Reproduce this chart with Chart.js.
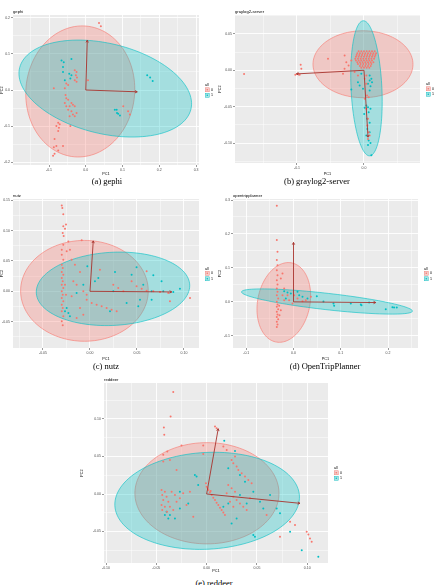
<!DOCTYPE html>
<html>
<head>
<meta charset="utf-8">
<script src="https://cdn.jsdelivr.net/npm/chart.js@4.4.1/dist/chart.umd.min.js"></script>
<style>
  body { margin: 0; background: #fff; width: 437px; height: 585px; overflow: hidden; position: relative; }
  canvas { position: absolute; }
  .cap { position: absolute; font-family: 'Liberation Serif', 'DejaVu Serif', serif; font-size: 8.5px; line-height: 10px; color: #000; white-space: nowrap; transform: translateX(-50%); }
</style>
</head>
<body>
<canvas id="pa" width="218" height="176" style="left:0;top:0"></canvas>
<canvas id="pb" width="219" height="176" style="left:218px;top:0"></canvas>
<canvas id="pc" width="218" height="176" style="left:0;top:185px"></canvas>
<canvas id="pd" width="219" height="176" style="left:218px;top:185px"></canvas>
<canvas id="pe" width="270" height="203" style="left:80px;top:370px"></canvas>
<div class="cap" style="left:107px;top:176px">(a) gephi</div>
<div class="cap" style="left:317px;top:176px">(b) graylog2-server</div>
<div class="cap" style="left:106px;top:361px">(c) nutz</div>
<div class="cap" style="left:325px;top:361px">(d) OpenTripPlanner</div>
<div class="cap" style="left:214px;top:578px">(e) reddeer</div>
<script>
// legend groups
const groups = ['0', '1']
const groupColors = ['#F8766D', '#00BFC4']
const groupFills = ['rgba(248,118,109,0.3)', 'rgba(0,191,196,0.3)']

// ---------- (a) gephi
const gephiXLabels = ['-0.1', '0.0', '0.1', '0.2', '0.3']
const gephiYLabels = ['-0.2', '-0.1', '0.0', '0.1', '0.2']
const gephi0 = [[0.036,0.186],[0.041,0.177],[-0.030,0.055],[-0.025,0.050],[-0.027,0.041],[-0.024,0.035],[-0.030,0.027],[-0.025,0.023],
  [-0.053,0.018],[-0.048,0.014],[-0.057,0.005],[-0.087,0.005],[0.006,0.027],[-0.055,-0.014],[-0.053,-0.023],[-0.048,-0.027],
  [-0.039,-0.036],[-0.035,-0.041],[-0.044,-0.045],[-0.030,-0.045],[-0.048,-0.055],[-0.039,-0.059],[-0.035,-0.068],[-0.030,-0.073],
  [-0.044,-0.073],[-0.025,-0.064],[-0.057,-0.036],[-0.053,-0.045],[0.102,-0.045],[0.115,-0.059],[0.120,-0.068],[-0.075,-0.091],
  [-0.071,-0.095],[-0.080,-0.100],[-0.073,-0.105],[-0.075,-0.114],[-0.042,-0.100],[-0.085,-0.136],[-0.080,-0.155],[-0.087,-0.159],
  [-0.075,-0.168],[-0.085,-0.177],[-0.089,-0.182],[-0.062,-0.155]]
const gephi1 = [[-0.066,0.082],[-0.060,0.077],[-0.039,0.086],[-0.062,0.064],[-0.045,0.045],[-0.039,0.041],[-0.042,0.032],[-0.057,0.027],
  [-0.062,0.050],[0.167,0.041],[0.175,0.035],[0.182,0.025],[0.079,-0.055],[0.084,-0.055],[0.088,-0.066],[0.093,-0.071],[0.085,-0.064]]
const gephiArrows = [[0.004,0.138],[0.140,-0.005]]
// ellipse: centre x, centre y, semi-axis a, semi-axis b, angle (deg)
const gephiEllipse0 = [-0.015, -0.004, 0.182, 0.148, 85]
const gephiEllipse1 = [0.053, 0.004, 0.240, 0.125, -14]

// ---------- (b) graylog2-server
const graylogXLabels = ['-0.1', '0.0']
const graylogYLabels = ['-0.10', '-0.05', '0.00', '0.05']
const graylog0 = [[-0.179,-0.005],[-0.0945,0.0076],[-0.0935,0.0021],[-0.0985,-0.0048],[-0.096,-0.0062],[-0.1025,-0.006],
  [-0.0537,0.0158],[-0.0289,0.0204],[-0.0313,-0.0048],[-0.0264,0.0112],[-0.0189,0.0135],[-0.023,0.0067],[-0.029,0.002],
  [-0.008,0.026],[-0.004,0.026],[0,0.026],[0.004,0.026],[0.008,0.026],[0.012,0.026],[0.016,0.026],
  [-0.010,0.0235],[-0.006,0.0235],[-0.002,0.0235],[0.002,0.0235],[0.006,0.0235],[0.010,0.0235],[0.014,0.0235],[0.018,0.0235],
  [-0.011,0.021],[-0.007,0.021],[-0.003,0.021],[0.001,0.021],[0.005,0.021],[0.009,0.021],[0.013,0.021],[0.017,0.021],
  [-0.012,0.0185],[-0.008,0.0185],[-0.004,0.0185],[0,0.0185],[0.004,0.0185],[0.008,0.0185],[0.012,0.0185],[0.016,0.0185],
  [-0.013,0.016],[-0.009,0.016],[-0.005,0.016],[-0.001,0.016],[0.003,0.016],[0.007,0.016],[0.011,0.016],[0.015,0.016],
  [-0.012,0.0135],[-0.008,0.0135],[-0.004,0.0135],[0,0.0135],[0.004,0.0135],[0.008,0.0135],[0.012,0.0135],
  [-0.010,0.011],[-0.006,0.011],[-0.002,0.011],[0.002,0.011],[0.006,0.011],[0.010,0.011],[0.014,0.011],
  [-0.009,0.0085],[-0.005,0.0085],[-0.001,0.0085],[0.003,0.0085],[0.007,0.0085],[0.011,0.0085],
  [-0.006,0.006],[-0.002,0.006],[0.002,0.006],[0.006,0.006],[0.010,0.006],
  [-0.004,0.0035],[0,0.0035],[0.004,0.0035],[0.008,0.0035],
  [0.001,-0.0117],[0.0035,-0.0186],[0.0045,-0.0347],[0.007,-0.037],[0.001,-0.0393],[0.0035,-0.053],[0.006,-0.0668],
  [0.005,-0.076],[0.007,-0.0852],[0.0085,-0.0898],[0.006,-0.0944],[0.0035,-0.0071],[-0.009,-0.0071],[-0.014,-0.0025]]
const graylog1 = [[-0.004,-0.0048],[0.0085,-0.0071],[0.011,-0.0117],[0.0085,-0.014],[0.012,-0.0163],[0.006,-0.0186],[0.0097,-0.022],
  [-0.009,-0.0163],[-0.0065,-0.0209],[-0.0189,-0.0264],[-0.0015,-0.0255],[0.0085,-0.0278],[0.0035,-0.0485],[0.006,-0.0508],
  [0.001,-0.0517],[0.0097,-0.053],[0.007,-0.0576],[0.0003,-0.06],[0.0047,-0.0668],[0.0085,-0.0723],[0.005,-0.0806],
  [0.0085,-0.0852],[0.0035,-0.0898],[0.007,-0.0967],[0.0097,-0.1],[0.011,-0.117],[0.006,-0.1027]]
const graylogArrows = [[-0.101,-0.005],[0.006,-0.092]]
const graylogEllipse0 = [-0.0015, 0.0083, 0.0746, 0.046, 0]
const graylogEllipse1 = [0.0037, -0.0248, 0.093, 0.023, 93]

// ---------- (c) nutz
const nutzXLabels = ['-0.05', '0.00', '0.05', '0.10']
const nutzYLabels = ['-0.05', '0.00', '0.05', '0.10', '0.15']
const nutz0 = [[-0.030,0.1415],[-0.0294,0.137],[-0.0284,0.127],[-0.0255,0.110],[-0.0284,0.107],[-0.0266,0.103],[-0.029,0.096],
  [-0.028,0.091],[-0.023,0.082],[-0.0284,0.0768],[-0.030,0.0685],[-0.0248,0.0658],[-0.0213,0.0685],[-0.030,0.0603],[-0.0284,0.052],
  [-0.0195,0.052],[-0.030,0.0439],[-0.029,0.0384],[-0.030,0.0318],[-0.0284,0.0274],[-0.030,0.0219],[-0.029,0.0165],[-0.030,0.011],
  [-0.0284,0.0055],[-0.030,0],[-0.029,-0.0055],[-0.030,-0.011],[-0.0284,-0.0165],[-0.030,-0.0219],[-0.029,-0.0274],[-0.030,-0.0329],
  [-0.0284,-0.0411],[-0.030,-0.0493],[-0.029,-0.0559],[-0.0266,0.011],[-0.0255,-0.0055],
  [-0.0088,0.0839],[-0.016,0.0439],[-0.0106,0.0318],[-0.0177,0.0165],[-0.0142,0.011],[-0.0071,0],[-0.0035,-0.0137],[0.0018,-0.0192],
  [0.0071,-0.0219],[0.0124,-0.0247],[0.0177,-0.0274],[0.023,-0.0302],[0.0284,-0.0329],[0.0248,0.011],[0.0301,0.0055],[0.0355,0],
  [0.0443,0.0165],[0.0496,0.0082],[0.055,0.0044],[0.0603,0.0011],[0.0674,0],[0.0745,-0.0011],[0.0833,-0.0027],[0.0851,-0.0165],
  [0.1064,-0.011],[0.0603,0.0329],[0.0106,0.0356],[-0.0142,-0.0439],[-0.0071,-0.0384],[-0.0035,-0.0055],[-0.0195,-0.0082],[-0.0106,-0.0274]]
const nutz1 = [[-0.0266,-0.0329],[-0.023,-0.0356],[-0.0213,-0.0411],[-0.0248,-0.0274],[-0.0028,0.0411],[0.0053,0.0165],[0.0089,0.0219],
  [0.0266,0.0318],[0.0443,0.0274],[0.0496,0.0395],[0.0674,0.0263],[0.0762,0.0165],[0.0567,0.011],[0.0656,0],[0.078,0],[0.0887,-0.0011],
  [0.0957,0.0044],[0.0532,-0.0137],[0.0656,-0.0137],[0.039,-0.0192],[0.0248,0],[0.0213,-0.0329],[-0.0142,-0.0027],[-0.0071,0.011],[0.0514,-0.0247]]
const nutzArrows = [[0.0035,0.083],[0.087,-0.001]]
const nutzEllipse0 = [-0.0059, 0.0008, 0.0679, 0.083, 0]
const nutzEllipse1 = [0.0245, 0.0041, 0.082, 0.060, 8]

// ---------- (d) OpenTripPlanner
const otpXLabels = ['-0.1', '0.0', '0.1', '0.2']
const otpYLabels = ['-0.1', '0.0', '0.1', '0.2', '0.3']
const otp0 = [[-0.0353,0.2832],[-0.0353,0.1821],[-0.0338,0.1475],[-0.0353,0.123],[-0.0338,0.108],[-0.0353,0.0934],[-0.0338,0.0787],
  [-0.0353,0.0639],[-0.0338,0.0512],[-0.0353,0.0394],[-0.0338,0.0295],[-0.0353,0.0197],[-0.0324,0.0098],[-0.0353,0],[-0.0338,-0.0079],
  [-0.0353,-0.0147],[-0.0324,-0.0216],[-0.0353,-0.0295],[-0.0338,-0.0374],[-0.0353,-0.0443],[-0.0324,-0.0511],[-0.0353,-0.059],
  [-0.0338,-0.0669],[-0.0353,-0.0738],[-0.0303,-0.0118],[-0.0268,-0.0246],[-0.0296,-0.0394],
  [-0.0233,0.0836],[-0.0268,0.0689],[-0.0197,0.0394],[-0.0127,0.0197],[-0.0092,0.0049],[-0.0021,-0.0049],[0.0085,0.0098],
  [0.019,0.002],[0.026,0.0049],[-0.0233,0.0197],[0.0014,0.0197],[-0.0197,0.0049],[0.0367,0.0147]]
const otp1 = [[-0.0197,0.0315],[-0.0127,0.0275],[0.0085,0.0295],[0.012,0.0197],[0.019,0.0148],[0.0296,0.0098],[0.0493,0.0167],
  [0.0634,0.001],[0.0846,-0.0049],[0.086,-0.0118],[0.1212,-0.0049],[0.1424,-0.0079],[0.1438,-0.0098],[0.16,-0.002],[0.1952,-0.0216],
  [0.2093,-0.0157],[0.2128,-0.0167],[0.2185,-0.0167],[-0.0162,0.0098],[-0.0056,0.0246]]
const otpArrows = [[0,0.175],[0.174,-0.002]]
const otpEllipse0 = [-0.0205, -0.0018, 0.118, 0.0557, 84]
const otpEllipse1 = [0.0708, 0.001, 0.183, 0.024, -9]

// ---------- (e) reddeer
const reddeerXLabels = ['-0.10', '-0.05', '0.00', '0.05', '0.10']
const reddeerYLabels = ['-0.05', '0.00', '0.05', '0.10']
const reddeer0 = [[-0.0332,0.136],[-0.0358,0.1034],[-0.0425,0.0887],[-0.0421,0.0789],[-0.0391,0.0566],[-0.0431,0.0522],[-0.0431,0.0433],
  [-0.0365,0.0455],[-0.0299,0.0321],[-0.025,0.0646],[-0.0034,0.0646],[-0.0034,0.0535],[0.0083,0.09],[0.0099,0.0878],
  [-0.0448,0.0053],[-0.0415,0.0031],[-0.0441,-0.0013],[-0.0398,-0.0036],[-0.0431,-0.008],[-0.0381,-0.0103],[-0.0448,-0.0147],
  [-0.0415,-0.017],[-0.0365,-0.017],[-0.0441,-0.0214],[-0.0394,-0.0236],[-0.0332,-0.0214],[-0.0299,-0.0103],[-0.0315,-0.0013],
  [-0.0348,0.0031],[-0.0266,-0.0058],[-0.0233,0.0009],[-0.02,-0.0147],[-0.0133,-0.0303],[-0.0166,0.0031],
  [0,0.0098],[0.0017,0.0053],[0.0033,0.0022],[0.005,-0.0013],[0.0066,-0.0049],[0.0083,-0.008],[0.0099,-0.0116],[0.0116,-0.0147],
  [0.0133,-0.0183],[0.0149,-0.0214],[0.0166,-0.0245],[0.0182,-0.0281],[-0.0007,0.0143],[0.001,0.0076],[0.004,0.004],
  [0.0215,0.012],[0.0248,0.0076],[0.0282,0.0031],[0.0265,-0.0036],[0.0298,-0.008],[0.0331,-0.0125],[0.0364,-0.017],[0.0398,-0.0214],
  [0.0232,-0.0103],[0.0265,-0.017],[0.0431,-0.0058],[0.0199,0.0009],
  [0.0248,0.0455],[0.0265,0.041],[0.0298,0.0366],[0.0315,0.0321],[0.0348,0.0276],[0.0381,0.0232],[0.0414,0.0187],[0.0447,0.0143],
  [0.0166,0.0633],[0.0199,0.0588],[0.0282,0.05],
  [0.0829,-0.037],[0.0878,-0.0414],[0.0994,-0.0504],[0.1011,-0.054],[0.1027,-0.0593],[0.1044,-0.0637],[0.0729,-0.0571],[0.0596,-0.0281]]
const reddeer1 = [[0.0175,0.0709],[0.0282,0.0575],[0.0215,0.0343],[-0.0117,0.0254],[-0.0084,0.012],[-0.0266,0.0031],[-0.0183,-0.0125],
  [-0.0398,-0.0236],[-0.0365,-0.0281],[-0.0315,-0.0325],[-0.0266,-0.0192],[0.0331,-0.0013],[0.0398,-0.0125],[0.0464,0.0031],
  [0.053,-0.0103],[0.063,-0.0013],[0.0696,-0.0192],[0.0729,-0.0258],[0.0464,-0.0548],[0.048,-0.0571],[0.0298,-0.0325],
  [0.0248,-0.0392],[0.0945,-0.0749],[0.111,-0.0838],[0.0829,-0.0504],[0.0563,-0.0192],[-0.0415,-0.0281],[-0.0381,-0.0325],
  [-0.01,0.0232],[0.0331,0.0254],[0.0381,0.0165],[0.0166,-0.017],[0.0215,-0.0125]]
const reddeerArrows = [[0.0115,0.087],[0.0927,-0.0124]]
const reddeerEllipse0 = [0.0003, 0.001, 0.0716, 0.0675, 0]
const reddeerEllipse1 = [0.0005, -0.0091, 0.092, 0.0644, 6]

const FONT = "'Liberation Sans', Arial, sans-serif"

function ticksFor(labels, min, max) {
    const major = labels.map(Number)
    const step = major[1] - major[0]
    const minor = []
    for (let i = -1; i < major.length; i++) {
        const v = i < 0 ? major[0] - step / 2 : major[i] + step / 2
        if (v > min && v < max) minor.push(v)
    }
    return { major, minor }
}

function scaleCfg(labels, min, max, title, size, horizontal) {
    const t = ticksFor(labels, min, max)
    const isMajor = v => t.major.some(m => Math.abs(m - v) < 1e-9)
    return {
        type: 'linear', min, max,
        afterBuildTicks: s => { s.ticks = t.major.concat(t.minor).sort((p, q) => p - q).map(v => ({ value: v })) },
        afterFit: s => { if (horizontal) s.height = size; else s.width = size },
        ticks: {
            autoSkip: false, maxRotation: 0, padding: 1, color: '#4d4d4d',
            font: { size: 3.5, family: FONT },
            callback: v => { const i = t.major.findIndex(m => Math.abs(m - v) < 1e-9); return i < 0 ? '' : labels[i] }
        },
        grid: {
            color: '#ffffff', tickLength: 2, tickWidth: 0.5,
            lineWidth: c => isMajor(c.tick.value) ? 0.9 : 0.45,
            tickColor: c => isMajor(c.tick.value) ? '#333333' : 'rgba(0,0,0,0)'
        },
        border: { display: false },
        title: { display: true, text: title, color: '#000', padding: 0, font: { size: 3.8, family: FONT } }
    }
}

//plugin que desenha fundo, elipses, setas, titulo e legenda no estilo ggplot
function ggPlugin(p) {
    return {
        id: 'gg',
        beforeDraw(chart) {
            const { ctx, chartArea: a } = chart
            ctx.save()
            ctx.fillStyle = '#ebebeb'
            ctx.fillRect(a.left, a.top, a.right - a.left, a.bottom - a.top)
            ctx.restore()
        },
        beforeDatasetsDraw(chart) {
            const { ctx, chartArea: a, scales: { x, y } } = chart
            ctx.save()
            ctx.beginPath(); ctx.rect(a.left, a.top, a.right - a.left, a.bottom - a.top); ctx.clip()
            p.ellipses.forEach((e, k) => {
                const [cx, cy, ea, eb, ang] = e
                const th = ang * Math.PI / 180
                ctx.beginPath()
                for (let i = 0; i <= 120; i++) {
                    const t = i / 120 * 2 * Math.PI
                    const ex = ea * Math.cos(t), ey = eb * Math.sin(t)
                    const px = x.getPixelForValue(cx + ex * Math.cos(th) - ey * Math.sin(th))
                    const py = y.getPixelForValue(cy + ex * Math.sin(th) + ey * Math.cos(th))
                    i ? ctx.lineTo(px, py) : ctx.moveTo(px, py)
                }
                ctx.closePath()
                ctx.fillStyle = groupFills[k]
                ctx.fill()
                ctx.strokeStyle = groupColors[k]
                ctx.lineWidth = 0.6
                ctx.stroke()
            })
            ctx.restore()
        },
        afterDatasetsDraw(chart) {
            const { ctx, scales: { x, y } } = chart
            const x0 = x.getPixelForValue(0), y0 = y.getPixelForValue(0)
            ctx.save()
            ctx.strokeStyle = '#a8322d'
            ctx.lineWidth = 0.9
            p.arrows.forEach(([ax, ay]) => {
                const x1 = x.getPixelForValue(ax), y1 = y.getPixelForValue(ay)
                ctx.beginPath(); ctx.moveTo(x0, y0); ctx.lineTo(x1, y1); ctx.stroke()
                const an = Math.atan2(y1 - y0, x1 - x0), L = 2.5
                ctx.beginPath()
                ctx.moveTo(x1 - L * Math.cos(an - 0.5), y1 - L * Math.sin(an - 0.5))
                ctx.lineTo(x1, y1)
                ctx.lineTo(x1 - L * Math.cos(an + 0.5), y1 - L * Math.sin(an + 0.5))
                ctx.stroke()
            })
            ctx.restore()
        },
        afterDraw(chart) {
            const { ctx, chartArea: a } = chart
            ctx.save()
            ctx.fillStyle = '#000'
            ctx.font = '4.2px ' + FONT
            ctx.textBaseline = 'bottom'
            ctx.fillText(p.title, a.left, a.top - 1.5)
            // legenda
            const lx = a.right + 6, ly = (a.top + a.bottom) / 2 - 6.5
            ctx.font = '3.6px ' + FONT
            ctx.textBaseline = 'top'
            ctx.fillText('all', lx, ly)
            groups.forEach((g, i) => {
                const ky = ly + 4 + i * 5.5
                ctx.fillStyle = '#f2f2f2'
                ctx.fillRect(lx, ky, 4.6, 4.6)
                ctx.fillStyle = groupFills[i]
                ctx.fillRect(lx + 0.3, ky + 0.3, 4, 4)
                ctx.strokeStyle = groupColors[i]
                ctx.lineWidth = 0.4
                ctx.strokeRect(lx + 0.3, ky + 0.3, 4, 4)
                ctx.fillStyle = groupColors[i]
                ctx.beginPath(); ctx.arc(lx + 2.3, ky + 2.3, 0.8, 0, 2 * Math.PI); ctx.fill()
                ctx.fillStyle = '#000'
                ctx.textBaseline = 'middle'
                ctx.fillText(g, lx + 6, ky + 2.4)
            })
            ctx.restore()
        }
    }
}

function makePanel(id, p) {
    const toPts = arr => arr.map(([x, y]) => ({ x, y }))
    new Chart(document.getElementById(id), {
        type: 'scatter',
        data: {
            datasets: [p.g0, p.g1].map((d, i) => ({
                label: groups[i],
                data: toPts(d),
                pointRadius: 1,
                pointBorderWidth: 0,
                pointBackgroundColor: groupColors[i]
            }))
        },
        options: {
            responsive: false,
            animation: false,
            events: [],
            layout: { padding: { left: 0, top: p.top, right: p.right, bottom: 0 } },
            plugins: { legend: { display: false }, tooltip: { enabled: false }, title: { display: false } },
            scales: {
                x: scaleCfg(p.xLabels, p.xr[0], p.xr[1], 'PC1', p.xh, true),
                y: scaleCfg(p.yLabels, p.yr[0], p.yr[1], 'PC2', p.yw, false)
            }
        },
        plugins: [ggPlugin(p)]
    })
}

makePanel('pa', { title: 'gephi', g0: gephi0, g1: gephi1, xLabels: gephiXLabels, yLabels: gephiYLabels,
    xr: [-0.198, 0.308], yr: [-0.208, 0.208], ellipses: [gephiEllipse0, gephiEllipse1], arrows: gephiArrows,
    top: 15, right: 19, yw: 13, xh: 11 })
makePanel('pb', { title: 'graylog2-server', g0: graylog0, g1: graylog1, xLabels: graylogXLabels, yLabels: graylogYLabels,
    xr: [-0.1925, 0.0836], yr: [-0.1275, 0.076], ellipses: [graylogEllipse0, graylogEllipse1], arrows: graylogArrows,
    top: 15, right: 17, yw: 17, xh: 13 })
makePanel('pc', { title: 'nutz', g0: nutz0, g1: nutz1, xLabels: nutzXLabels, yLabels: nutzYLabels,
    xr: [-0.0819, 0.116], yr: [-0.0933, 0.152], ellipses: [nutzEllipse0, nutzEllipse1], arrows: nutzArrows,
    top: 14, right: 19, yw: 13, xh: 13 })
makePanel('pd', { title: 'opentripplanner', g0: otp0, g1: otp1, xLabels: otpXLabels, yLabels: otpYLabels,
    xr: [-0.128, 0.2634], yr: [-0.136, 0.303], ellipses: [otpEllipse0, otpEllipse1], arrows: otpArrows,
    top: 14, right: 19, yw: 15, xh: 13 })
makePanel('pe', { title: 'reddeer', g0: reddeer0, g1: reddeer1, xLabels: reddeerXLabels, yLabels: reddeerYLabels,
    xr: [-0.102, 0.1206], yr: [-0.092, 0.148], ellipses: [reddeerEllipse0, reddeerEllipse1], arrows: reddeerArrows,
    top: 13, right: 22, yw: 24, xh: 10 })
</script>
</body>
</html>
